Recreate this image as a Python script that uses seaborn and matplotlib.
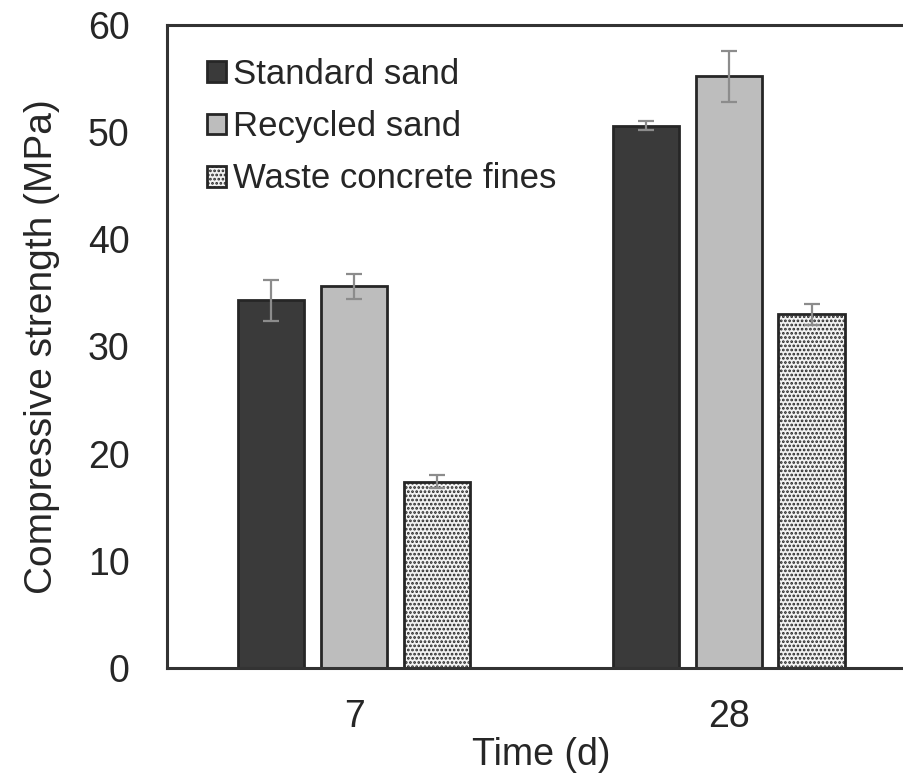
import matplotlib
matplotlib.use("Agg")
import matplotlib.pyplot as plt
import seaborn as sns
import pandas as pd
import numpy as np

# Data
times = ["7", "28"]
materials = ["Standard sand", "Recycled sand", "Waste concrete fines"]
standard_sand = [34.3, 50.6]
recycled_sand = [35.6, 55.2]
waste_fines = [17.4, 33.0]
standard_err = [1.9, 0.4]
recycled_err = [1.2, 2.4]
waste_err = [0.6, 1.0]

values = {"Standard sand": standard_sand, "Recycled sand": recycled_sand,
          "Waste concrete fines": waste_fines}
errors = {"Standard sand": standard_err, "Recycled sand": recycled_err,
          "Waste concrete fines": waste_err}

rows = []
for m in materials:
    for t, v in zip(times, values[m]):
        rows.append({"Time": t, "Material": m, "Strength": v})
df = pd.DataFrame(rows)

sns.set_style("white")
plt.rcParams["font.family"] = ["Liberation Sans", "DejaVu Sans"]
plt.rcParams["hatch.color"] = "#9a9a9a"
plt.rcParams["hatch.linewidth"] = 1.3

fig = plt.figure(figsize=(9.04, 7.79), dpi=100)
ax = fig.add_axes([0.1847, 0.1425, 0.8285, 0.8254])

palette = {"Standard sand": "#3a3a3a", "Recycled sand": "#bdbdbd",
           "Waste concrete fines": "#f2f2f2"}
sns.barplot(data=df, x="Time", y="Strength", hue="Material", order=times,
            hue_order=materials, palette=palette, width=0.664, gap=0.2,
            errorbar=None, legend=False, ax=ax,
            edgecolor="#262626", linewidth=2.0, saturation=1)

for cont, m in zip(ax.containers, materials):
    xs = [p.get_x() + p.get_width() / 2 for p in cont.patches]
    ys = [p.get_height() for p in cont.patches]
    if m == "Waste concrete fines":
        for p in cont.patches:
            p.set_hatch("....")
    ax.errorbar(xs, ys, yerr=errors[m], fmt="none", ecolor="#8c8c8c",
                elinewidth=1.6, capsize=6, capthick=1.6, zorder=5)

ax.set_xlim(-0.5, 1.5)
ax.set_ylim(0, 60)
ax.set_yticks([0, 10, 20, 30, 40, 50, 60])
ax.tick_params(axis="y", direction="in", length=9, width=1.5, labelsize=27,
               pad=27, colors="#262626")
ax.tick_params(axis="x", which="major", length=0, labelsize=27, pad=22,
               colors="#262626")
ax.set_xticks([0.5], minor=True)
ax.tick_params(axis="x", which="minor", direction="in", length=8, width=1.5,
               color="#262626")

ax.set_xlabel("Time (d)", fontsize=27, color="#262626", labelpad=2)
ax.set_ylabel("Compressive strength (MPa)", fontsize=28, color="#262626",
              labelpad=20)

for s in ["left", "bottom", "top", "right"]:
    ax.spines[s].set_visible(True)
    ax.spines[s].set_color("#333333")
    ax.spines[s].set_linewidth(2.2)

leg = ax.legend(ax.containers, materials, loc="upper left", frameon=False,
                fontsize=25, handlelength=0.55, handleheight=0.55,
                handletextpad=0.2, labelspacing=0.55,
                bbox_to_anchor=(0.035, 0.97), borderaxespad=0)
for t in leg.get_texts():
    t.set_color("#262626")

fig.savefig("out.png", dpi=100)
